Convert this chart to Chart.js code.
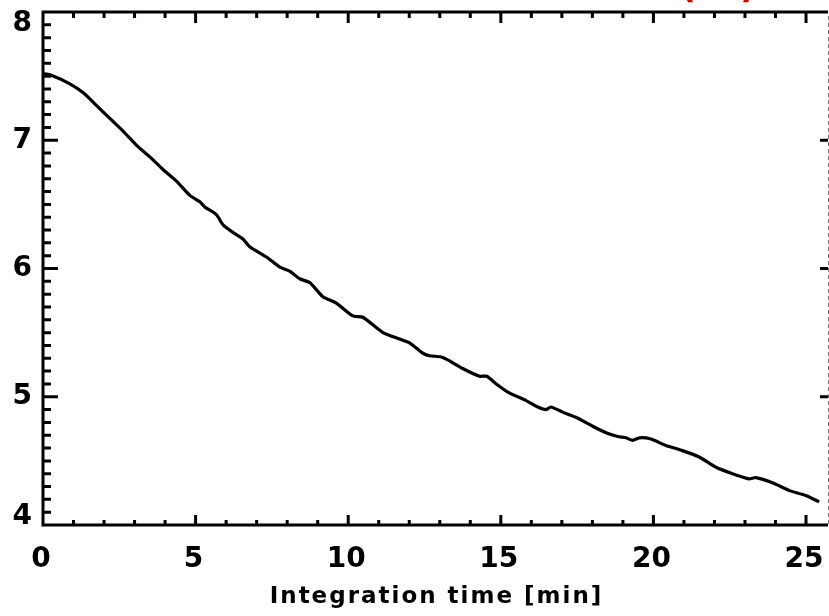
<!DOCTYPE html>
<html>
<head>
<meta charset="utf-8">
<script src="https://cdn.jsdelivr.net/npm/chart.js@4"></script>
<style>
  body { margin: 0; background: #fff; }
  canvas { display: block; }
</style>
</head>
<body>
<canvas id="chart" width="829" height="616"></canvas>
<script>
// Data
const timeMin = [0, 0.23, 0.88, 1.32, 1.76, 2.19, 2.63, 3.07, 3.5, 3.94, 4.38, 4.81, 5.14, 5.3, 5.68, 5.9,
  6.23, 6.55, 6.77, 7.32, 7.76, 8.08, 8.41, 8.74, 9.17, 9.61, 10.15, 10.48, 11.14, 11.68, 12.01, 12.44,
  12.66, 13.05, 13.32, 13.75, 14.3, 14.54, 14.85, 15.28, 15.83, 16.21, 16.48, 16.64, 17.03, 17.46, 18.01,
  18.45, 18.83, 19.1, 19.32, 19.54, 19.92, 20.41, 20.95, 21.5, 22.05, 22.59, 23.13, 23.35, 23.9, 24.44,
  24.99, 25.43];
const values = [7.52, 7.51, 7.44, 7.37, 7.27, 7.17, 7.07, 6.96, 6.87, 6.77, 6.68, 6.57, 6.52, 6.48, 6.42, 6.34,
  6.28, 6.23, 6.17, 6.09, 6.01, 5.98, 5.92, 5.89, 5.78, 5.73, 5.63, 5.62, 5.5, 5.45, 5.42, 5.34,
  5.32, 5.31, 5.28, 5.22, 5.16, 5.16, 5.1, 5.03, 4.97, 4.92, 4.9, 4.92, 4.88, 4.84, 4.77,
  4.72, 4.69, 4.68, 4.66, 4.68, 4.67, 4.62, 4.58, 4.53, 4.45, 4.4, 4.36, 4.37, 4.33, 4.27,
  4.23, 4.18];

// Axis ticks
const xTickLabels = ['0', '5', '10', '15', '20', '25'];
const yTickLabels = ['4', '5', '6', '7', '8'];
const xTitle = 'Integration time [min]';

const points = timeMin.map(function(t, i) {
    return { x: t, y: values[i] };
});

// Draws the IDL-style frame, tick marks and labels from the chart scales
const idlAxes = {
    id: 'idlAxes',
    beforeDraw: function(chart) {
        const ctx = chart.ctx;
        ctx.save();
        ctx.fillStyle = '#fff';
        ctx.fillRect(0, 0, chart.width, chart.height);
        ctx.restore();
    },
    afterDraw: function(chart) {
        const ctx = chart.ctx;
        const area = chart.chartArea;
        const xs = chart.scales.x;
        const ys = chart.scales.y;
        ctx.save();
        ctx.strokeStyle = '#000';
        ctx.lineWidth = 3;
        ctx.lineCap = 'butt';

        // frame: left, bottom, top
        ctx.beginPath();
        ctx.moveTo(area.left, area.top - 1.5);
        ctx.lineTo(area.left, area.bottom + 1.5);
        ctx.moveTo(area.left - 1.5, area.bottom);
        ctx.lineTo(area.right, area.bottom);
        ctx.moveTo(area.left - 1.5, area.top);
        ctx.lineTo(area.right, area.top);
        ctx.stroke();

        // right edge is cut off in the reference: thin dashed line
        ctx.save();
        ctx.lineWidth = 1;
        ctx.strokeStyle = '#777';
        ctx.setLineDash([4, 3]);
        ctx.beginPath();
        ctx.moveTo(area.right + 0.5, area.top + 4);
        ctx.lineTo(area.right + 0.5, area.bottom);
        ctx.stroke();
        ctx.restore();

        // x ticks (every 1, major every 5)
        ctx.lineWidth = 3;
        ctx.beginPath();
        for (let v = 1; v <= 25; v++) {
            const px = xs.getPixelForValue(v);
            const major = v % 5 === 0;
            ctx.moveTo(px, area.bottom);
            ctx.lineTo(px, area.bottom - (major ? 10 : 5));
            ctx.moveTo(px, area.top);
            ctx.lineTo(px, area.top + (major ? 11 : 6));
        }
        // y ticks (every 0.1, major every 1)
        for (let k = 1; k < 40; k++) {
            const v = 4 + k / 10;
            const py = ys.getPixelForValue(v);
            const major = k % 10 === 0;
            ctx.moveTo(area.left, py);
            ctx.lineTo(area.left + (major ? 15 : 8), py);
            if (major) {
                ctx.moveTo(area.right, py);
                ctx.lineTo(area.right - 8, py);
            }
        }
        ctx.stroke();

        // tick labels
        ctx.fillStyle = '#000';
        ctx.font = 'bold 28px "DejaVu Sans"';
        ctx.textAlign = 'center';
        ctx.textBaseline = 'middle';
        xTickLabels.forEach(function(lab) {
            ctx.fillText(lab, xs.getPixelForValue(Number(lab)) - 2, area.bottom + 35);
        });
        ctx.textAlign = 'right';
        yTickLabels.forEach(function(lab) {
            let py = ys.getPixelForValue(Number(lab));
            py = Math.min(Math.max(py, area.top + 12), area.bottom - 8);
            ctx.fillText(lab, area.left - 11, py);
        });

        // axis title
        ctx.textAlign = 'center';
        ctx.textBaseline = 'alphabetic';
        ctx.font = 'bold 23px "DejaVu Sans"';
        ctx.letterSpacing = '2px';
        ctx.fillText(xTitle, (area.left + area.right) / 2 + 1, 603);
        ctx.letterSpacing = '0px';

        // red panel label, mostly above the top edge
        ctx.fillStyle = '#d40000';
        ctx.font = 'bold 34px "DejaVu Sans"';
        ctx.fillText('(', 688, -2);
        ctx.fillText(')', 748, -2);
        ctx.restore();
    }
};

new Chart(document.getElementById('chart'), {
    type: 'line',
    data: {
        datasets: [{
            data: points,
            borderColor: '#000',
            borderWidth: 3.2,
            pointRadius: 0,
            tension: 0.2,
            fill: false
        }]
    },
    options: {
        responsive: false,
        animation: false,
        layout: { padding: { left: 43, right: 1, top: 12, bottom: 91 } },
        plugins: { legend: { display: false }, tooltip: { enabled: false } },
        scales: {
            x: { type: 'linear', min: 0, max: 25.72, display: false },
            y: { type: 'linear', min: 4, max: 8, display: false }
        }
    },
    plugins: [idlAxes]
});
</script>
</body>
</html>
